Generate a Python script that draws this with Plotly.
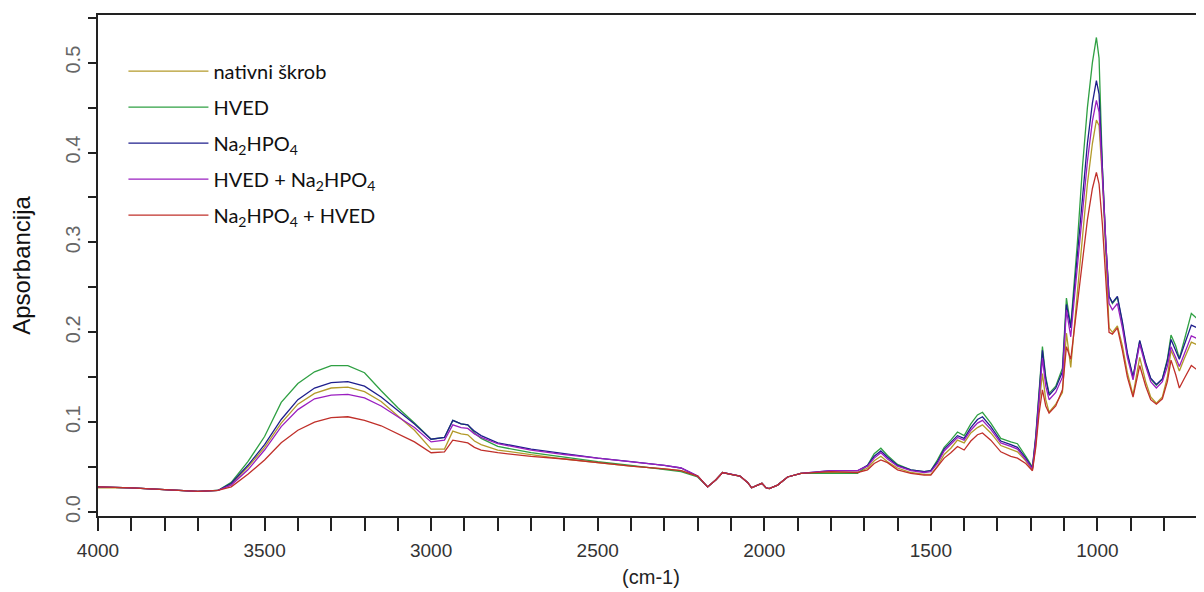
import plotly.graph_objects as go

wavenumber = [4000, 3900, 3800, 3700, 3640, 3600, 3550, 3500, 3450, 3400, 3350, 3300, 3250, 3200, 3150, 3100, 3050, 3000,
              2960, 2935, 2910, 2890, 2870, 2850, 2800, 2700, 2600, 2500, 2400, 2300, 2250, 2200, 2170, 2145, 2125, 2100,
              2073, 2050, 2038, 2020, 2007, 1995, 1985, 1960, 1930, 1890, 1800, 1720, 1690, 1670, 1650, 1630, 1600, 1560,
              1520, 1500, 1480, 1460, 1440, 1420, 1400, 1380, 1360, 1345, 1320, 1290, 1260, 1240, 1215, 1195, 1185, 1175,
              1165, 1155, 1145, 1125, 1105, 1093, 1080, 1070, 1060, 1045, 1030, 1015, 1003, 995, 985, 975, 965, 955, 940,
              925, 910, 893, 873, 855, 840, 823, 805, 790, 779, 765, 754, 740, 718, 700, 680]

nativni = [.027, .027, .025, .023, .024, .031, .050, .072, .099, .120, .132, .138, .139, .134, .123, .107, .091, .070,
           .070, .090, .087, .086, .079, .075, .069, .064, .059, .055, .051, .048, .046, .040, .028, .036, .044, .042,
           .040, .033, .027, .030, .032, .027, .026, .030, .039, .043, .044, .044, .049, .057, .062, .056, .049, .044,
           .042, .042, .051, .064, .071, .080, .077, .088, .094, .097, .088, .074, .070, .067, .057, .047, .075, .120,
           .154, .125, .111, .120, .133, .199, .161, .205, .245, .305, .365, .410, .436, .430, .370, .290, .205, .200, .207,
           .185, .155, .130, .172, .145, .128, .121, .128, .150, .180, .168, .157, .170, .189, .186, .191]

hved = [.028, .027, .025, .023, .024, .033, .056, .084, .122, .143, .156, .163, .163, .155, .135, .116, .099, .081,
        .083, .102, .098, .097, .088, .082, .073, .066, .061, .056, .052, .047, .045, .039, .028, .036, .044, .042,
        .040, .033, .027, .030, .032, .027, .026, .030, .039, .043, .043, .043, .052, .065, .071, .063, .053, .047,
        .045, .046, .058, .072, .080, .089, .085, .098, .108, .111, .099, .082, .078, .076, .062, .050, .085, .140,
        .184, .150, .132, .140, .160, .238, .207, .254, .300, .383, .450, .500, .528, .505, .383, .300, .240, .232, .239,
        .210, .175, .150, .190, .165, .148, .141, .148, .170, .197, .185, .171, .190, .221, .215, .223]

na2hpo4 = [.028, .027, .025, .023, .024, .032, .052, .075, .103, .125, .138, .144, .145, .140, .128, .113, .098, .081,
           .083, .102, .098, .097, .090, .085, .077, .070, .065, .060, .056, .052, .049, .040, .028, .036, .044, .042,
           .040, .033, .027, .030, .032, .027, .026, .030, .039, .043, .046, .046, .052, .062, .068, .061, .052, .047,
           .045, .046, .056, .070, .078, .085, .082, .094, .103, .106, .095, .079, .075, .072, .060, .049, .083, .135,
           .180, .148, .130, .138, .156, .231, .205, .245, .285, .350, .410, .455, .480, .465, .380, .300, .240, .233, .240,
           .212, .177, .150, .191, .166, .149, .142, .148, .168, .192, .180, .170, .185, .208, .205, .212]

hved_na2hpo4 = [.028, .027, .025, .023, .024, .030, .047, .069, .095, .114, .126, .130, .131, .127, .118, .106, .094, .078,
                .080, .097, .094, .093, .087, .083, .076, .069, .064, .060, .056, .052, .049, .040, .028, .036, .044, .042,
                .040, .033, .027, .030, .032, .027, .026, .030, .039, .043, .046, .046, .051, .060, .066, .059, .051, .046,
                .044, .045, .054, .068, .075, .083, .080, .091, .099, .102, .092, .077, .073, .070, .058, .048, .080, .130,
                .171, .140, .125, .133, .150, .225, .195, .235, .275, .335, .390, .435, .458, .445, .375, .295, .232, .225, .232,
                .205, .172, .147, .187, .162, .145, .138, .145, .162, .184, .172, .162, .175, .196, .193, .199]

na2hpo4_hved = [.028, .027, .025, .023, .024, .028, .042, .058, .077, .091, .100, .105, .106, .102, .096, .087, .078, .066,
                .067, .080, .078, .077, .072, .069, .066, .062, .059, .055, .051, .048, .046, .040, .028, .036, .044, .042,
                .040, .033, .027, .030, .032, .027, .026, .030, .039, .043, .045, .044, .047, .054, .058, .055, .047, .043,
                .041, .041, .050, .060, .066, .073, .069, .079, .086, .088, .080, .067, .062, .060, .054, .046, .072, .110,
                .136, .118, .110, .118, .136, .184, .170, .200, .235, .280, .325, .360, .378, .365, .320, .260, .200, .198, .205,
                .180, .150, .128, .163, .140, .125, .120, .126, .145, .169, .153, .138, .148, .163, .158, .165]

series_names = ["nativni škrob", "HVED", "Na<sub>2</sub>HPO<sub>4</sub>",
                "HVED + Na<sub>2</sub>HPO<sub>4</sub>", "Na<sub>2</sub>HPO<sub>4</sub> + HVED"]
series_values = [nativni, hved, na2hpo4, hved_na2hpo4, na2hpo4_hved]
series_colors = ["#B39A2A", "#2FA043", "#1E1E8C", "#9A1FC0", "#C0302A"]

x_tick_vals = list(range(4000, 599, -100))
x_tick_text = [str(v) if v % 500 == 0 else "" for v in x_tick_vals]
y_tick_vals = [i * 0.05 for i in range(12)]
y_tick_text = ["%.1f" % v if i % 2 == 0 else "" for i, v in enumerate(y_tick_vals)]

fig = go.Figure()
for i, (name, vals, col) in enumerate(zip(series_names, series_values, series_colors)):
    fig.add_trace(go.Scatter(x=wavenumber, y=vals, mode="lines", name=name,
                             legendgroup="g%d" % i,
                             line=dict(color=col, width=1.3)))

narrow = "Liberation Sans Narrow, Arial Narrow, Liberation Sans, Arial, sans-serif"

# the page body adds an 8px margin, so the figure is sized to fill the rest of the window
fig.update_layout(
    width=1196, height=584,
    margin=dict(l=90, r=0, t=7, b=76),
    paper_bgcolor="white", plot_bgcolor="white",
    showlegend=True,
    legend=dict(x=0.023, y=0.927, xanchor="left", yanchor="top",
                font=dict(family="Lato, Noto Sans, sans-serif", size=20, color="#111"),
                bgcolor="rgba(0,0,0,0)", tracegroupgap=7, itemwidth=80),
    xaxis=dict(range=[4000, 680], tickmode="array", tickvals=x_tick_vals, ticktext=x_tick_text,
               ticks="outside", ticklen=13, tickwidth=1.5, tickcolor="#222",
               showline=True, linecolor="#222", linewidth=2, mirror=True,
               showgrid=False, zeroline=False, automargin=False,
               tickfont=dict(family=narrow, size=19, color="#333"), ticklabelstandoff=3,
               title=dict(text="(cm-1)", font=dict(family=narrow, size=20, color="#222"), standoff=10)),
    yaxis=dict(range=[-0.0044, 0.553], tickmode="array", tickvals=y_tick_vals, ticktext=y_tick_text,
               ticks="outside", ticklen=8, tickwidth=1.5, tickcolor="#222",
               showline=True, linecolor="#222", linewidth=2, mirror=False,
               showgrid=False, zeroline=False, tickangle=-90, automargin=False,
               tickfont=dict(family=narrow, size=20, color="#666"),
               title=dict(text="Apsorbancija", font=dict(family="Liberation Sans, Arial, sans-serif", size=24, color="#111"), standoff=25)),
)

fig.write_html("out.html")
